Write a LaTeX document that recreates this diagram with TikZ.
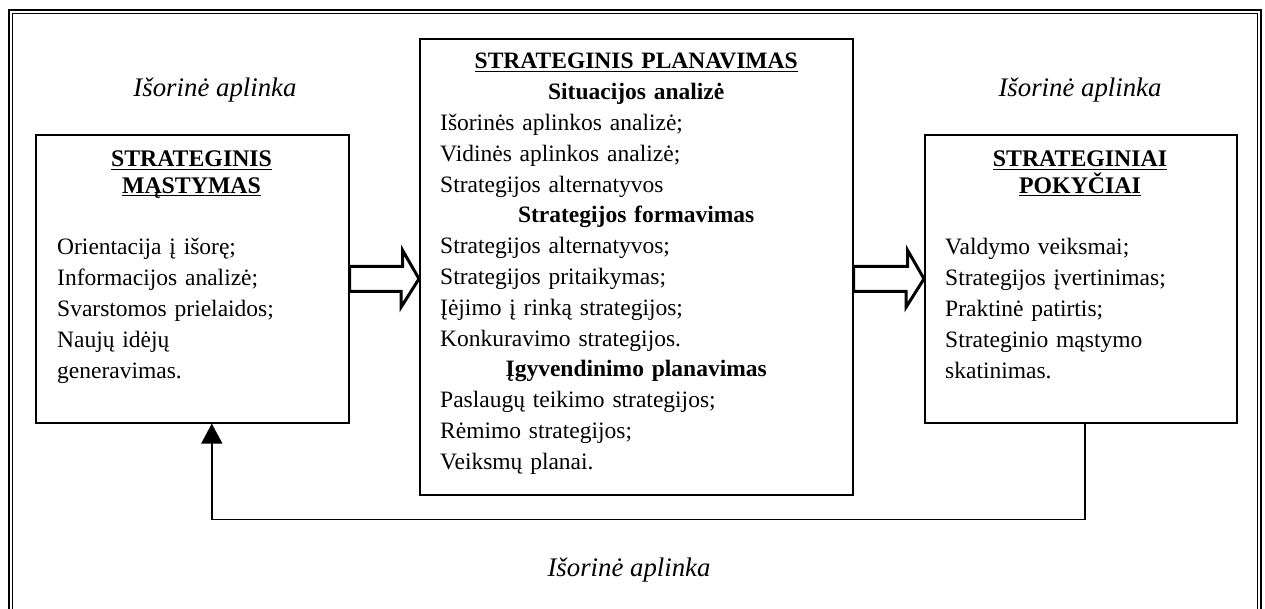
\documentclass[tikz,border=0pt]{standalone}
\usepackage{fontspec}
\setmainfont{Liberation Serif}
\usetikzlibrary{arrows.meta,calc}
% bold heading with a rule close under the baseline, kept in one box
\newcommand{\titleline}[1]{\leavevmode\hbox{\sbox0{#1}\rlap{\rule[-3pt]{\wd0}{1.2pt}}\usebox0}}

\begin{document}
\begin{tikzpicture}[x=1pt,y=-1pt,
  box/.style={draw,line width=1.6pt,inner sep=0pt,anchor=north west},
  bodytext/.style={inner sep=0pt,anchor=base west,
    font=\fontsize{23.5}{30.8}\selectfont},
  titletext/.style={inner sep=0pt,anchor=base,align=center,text width=300pt,
    font=\fontsize{23.8}{26.5}\selectfont\bfseries},
  envtext/.style={inner sep=0pt,anchor=base,
    font=\fontsize{26.8}{30}\selectfont\itshape},
  blockarrow/.style={draw,fill=white,line width=3pt,line join=miter},
  feedback/.style={draw,line width=1.4pt,-{Triangle[length=20pt,width=21pt]}}]

\useasboundingbox[fill=white] (0,0) rectangle (1265,609);

% double frame, open at the bottom edge
\draw[line width=1.5pt] (9,609) -- (9,10) -- (1261,10) -- (1261,609);
\draw[line width=0.8pt] (12.5,609) -- (12.5,13.5) -- (1257.5,13.5) -- (1257.5,609);

% environment labels
\node[envtext] (envL) at (215,96.5) {Išorinė aplinka};
\node[envtext] (envR) at (1080,96.5) {Išorinė aplinka};
\node[envtext] (envB) at (629,576) {Išorinė aplinka};

% the three boxes
\node[box,minimum width=313pt,minimum height=288pt] (lbox) at (35,134) {};
\node[box,minimum width=433pt,minimum height=456pt] (cbox) at (419,38) {};
\node[box,minimum width=312pt,minimum height=288pt] (rbox) at (924,134) {};

% left box
\node[titletext] (ltitle) at (191.5,167) {\titleline{STRATEGINIS}\par\titleline{MĄSTYMAS}};
\node[bodytext,text width=280pt] (lbody) at (57,255) {%
Orientacija į išorę;\\
Informacijos analizė;\\
Svarstomos prielaidos;\\
Naujų idėjų\\
generavimas.};

% right box
\node[titletext] (rtitle) at (1080,167) {\titleline{STRATEGINIAI}\par\titleline{POKYČIAI}};
\node[bodytext,text width=280pt] (rbody) at (945,255) {%
Valdymo veiksmai;\\
Strategijos įvertinimas;\\
Praktinė patirtis;\\
Strateginio mąstymo\\
skatinimas.};

% centre box
\node[bodytext,text width=392pt] (cbody) at (440,69) {%
{\centering\textbf{\titleline{STRATEGINIS PLANAVIMAS}}\par
\textbf{Situacijos analizė}\par}
Išorinės aplinkos analizė;\\
Vidinės aplinkos analizė;\\
Strategijos alternatyvos\par
{\centering\textbf{Strategijos formavimas}\par}
Strategijos alternatyvos;\\
Strategijos pritaikymas;\\
Įėjimo į rinką strategijos;\\
Konkuravimo strategijos.\par
{\centering\textbf{Įgyvendinimo planavimas}\par}
Paslaugų teikimo strategijos;\\
Rėmimo strategijos;\\
Veiksmų planai.};

% hollow block arrows between the boxes
\draw[blockarrow] ($(lbox.east)+(0,-12.5)$) -- ++(53,0) -- ++(0,-16)
  -- (lbox.east -| cbox.west) -- ++(-18,28.5) -- ++(0,-16)
  -- ($(lbox.east)+(0,12.5)$) -- cycle;
\draw[blockarrow] ($(cbox.east |- rbox.west)+(0,-12.5)$) -- ++(54,0) -- ++(0,-16)
  -- (rbox.west) -- ++(-18,28.5) -- ++(0,-16)
  -- ($(cbox.east |- rbox.west)+(0,12.5)$) -- cycle;

% feedback loop back to strategic thinking
\draw[feedback] ($(rbox.south)+(4,0)$) -- ++(0,96) -| ($(lbox.south)+(19.5,0)$);

\end{tikzpicture}
\end{document}
